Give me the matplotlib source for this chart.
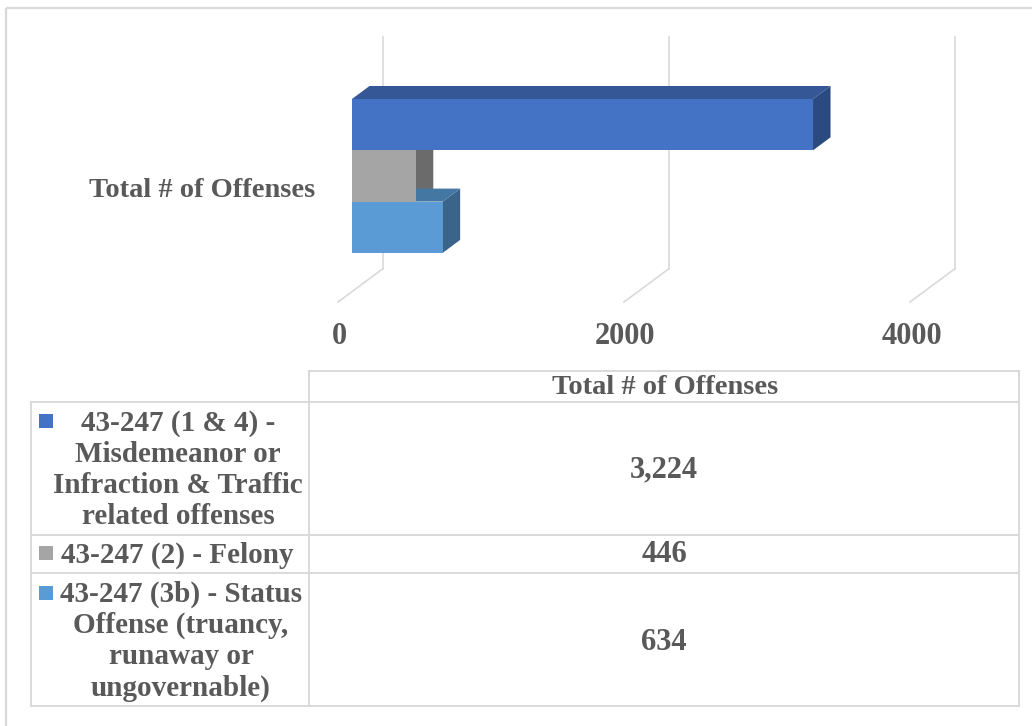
import matplotlib
matplotlib.use("Agg")
import matplotlib.pyplot as plt
from matplotlib.patches import Polygon, Rectangle

# ---- data ----
series_names = ["43-247 (1 & 4) -\nMisdemeanor or\nInfraction & Traffic\nrelated offenses",
                "43-247 (2) - Felony",
                "43-247 (3b) - Status\nOffense (truancy,\nrunaway or\nungovernable)"]
values = [3224, 446, 634]
value_labels = ["3,224", "446", "634"]
category = "Total # of Offenses"
x_ticks = [0, 2000, 4000]
front_colors = ["#4472C4", "#A5A5A5", "#5B9BD5"]
top_colors = ["#355795", "#7C7C7C", "#4577A3"]
side_colors = ["#2A4A80", "#6B6B6B", "#3A648A"]

W, H = 1032, 726
PX_PER_UNIT = 0.143     # horizontal pixels per offense
BAR_PX = 51.3
X0_PX, Y0_PX = 352, 99  # front-left of the bar stack
DX_PX, DY_PX = 17.5, 13 # depth of the 3D box
WALL_DX_PX = 30.5       # back wall offset of the gridlines
FLOOR_DX_PX = -14       # front tip of the floor lines

FONT = "Liberation Serif"
TXT = "#595959"
LINE = "#D9D9D9"

fig = plt.figure(figsize=(W / 100, H / 100), dpi=100)
fig.patch.set_facecolor("white")

# overlay in pixels for frame and data-table rules
pax = fig.add_axes([0, 0, 1, 1], zorder=0)
pax.set_xlim(0, W); pax.set_ylim(H, 0); pax.axis("off")

# data axes: covers the figure, scaled so x=0 falls on the stack's left edge
ax = fig.add_axes([0, 0, 1, 1], zorder=1)
ax.patch.set_alpha(0)
ax.set_xlim(-X0_PX / PX_PER_UNIT, (W - X0_PX) / PX_PER_UNIT)
ax.set_ylim((H - Y0_PX) / BAR_PX - 0.5, -Y0_PX / BAR_PX - 0.5)
ax.axis("off")

dx = DX_PX / PX_PER_UNIT
dy = DY_PX / BAR_PX
wall = WALL_DX_PX / PX_PER_UNIT
tip = FLOOR_DX_PX / PX_PER_UNIT
pos = list(range(len(values)))


def ypx(y):
    return (y - Y0_PX) / BAR_PX - 0.5


# gridlines (wall and floor)
for t in x_ticks:
    ax.plot([t + wall, t + wall], [ypx(37), ypx(269)], color=LINE, lw=1.2, zorder=1)
    ax.plot([t + wall, t + tip], [ypx(269), ypx(302)], color=LINE, lw=1.2, zorder=1)
    ax.text(t + tip + 1.5 / PX_PER_UNIT, ypx(337), str(t), ha="center", va="center",
            family=FONT, weight="bold", fontsize=22, color=TXT)

# 3D bars: depth faces first, later series over earlier, then every front face on top
for i, (p, v) in enumerate(zip(pos, values)):
    z = 2 + i
    top, bottom = p - 0.5, p + 0.5
    ax.add_patch(Polygon([(v, top), (v + dx, top - dy), (v + dx, bottom - dy), (v, bottom)],
                         closed=True, fc=side_colors[i], ec="none", zorder=z))
    ax.add_patch(Polygon([(0, top), (dx, top - dy), (v + dx, top - dy), (v, top)],
                         closed=True, fc=top_colors[i], ec="none", zorder=z))
    ax.barh(p, v, height=1.0, left=0, color=front_colors[i], edgecolor="none", zorder=10)

ax.text(-37 / PX_PER_UNIT, 1.29, category, ha="right", va="center", family=FONT,
        weight="bold", fontsize=20.5, color=TXT)

# outer frame
for xs, ys in [([6, 6], [8, H]), ([6, W], [8, 8])]:
    pax.plot(xs, ys, color=LINE, lw=1.6, solid_capstyle="butt")

# data table
T_L, T_M, T_R = 31, 309, 1019
rows = [402, 534.5, 573, 705.5]
T_TOP = 371
tbl = dict(color=LINE, lw=1.4, solid_capstyle="projecting")
pax.plot([T_M, T_R], [T_TOP, T_TOP], **tbl)
for y in rows:
    pax.plot([T_L, T_R], [y, y], **tbl)
pax.plot([T_L, T_L], [rows[0], rows[-1]], **tbl)
pax.plot([T_M, T_M], [T_TOP, rows[-1]], **tbl)
pax.plot([T_R, T_R], [T_TOP, rows[-1]], **tbl)

tfont = dict(family=FONT, weight="bold", fontsize=20.5, color=TXT, va="center", ha="center",
             linespacing=1.2)
lfont = dict(tfont, fontsize=21, linespacing=1.2)
vfont = dict(tfont, fontsize=22)
pax.text((T_M + T_R) / 2 + 1, 388, category, **tfont)
label_cx = [178, 177, 181]
key_y = [421, 553, 592.5]
label_y = [470, 555, 641]
value_y = [470, 555, 642]
for i in range(3):
    pax.add_patch(Rectangle((39, key_y[i] - 7), 14, 14, fc=front_colors[i], ec="none"))
    pax.text(label_cx[i], label_y[i], series_names[i], **lfont)
    pax.text((T_M + T_R) / 2, value_y[i], value_labels[i], **vfont)

fig.savefig("out.png", dpi=100)
